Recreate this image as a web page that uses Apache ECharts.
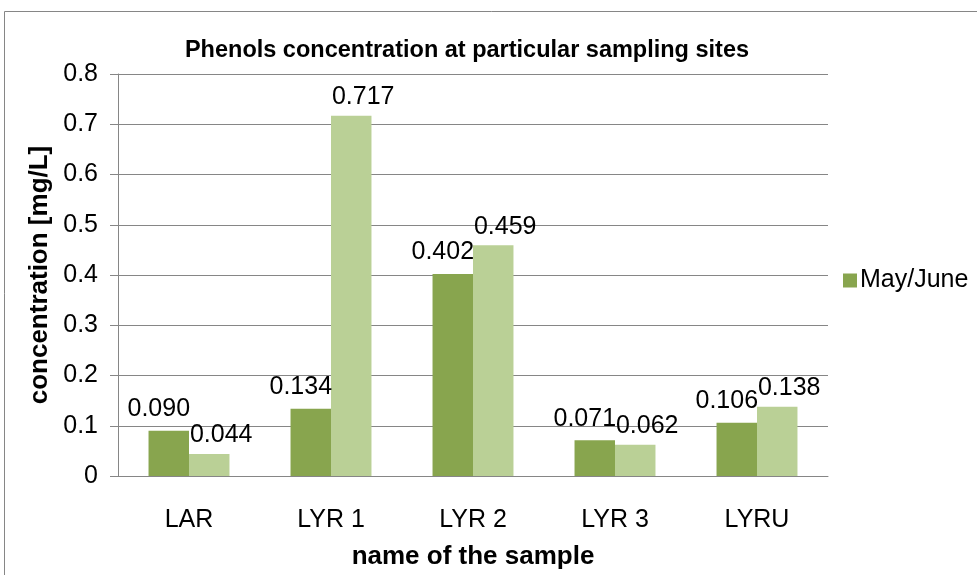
<!DOCTYPE html>
<html>
<head>
<meta charset="utf-8">
<script src="https://cdn.jsdelivr.net/npm/echarts@6/dist/echarts.min.js"></script>
<style>
  html, body { margin: 0; padding: 0; background: #fff; }
  #main { width: 977px; height: 575px; }
</style>
</head>
<body>
<div id="main"></div>
<script>
// sampling sites
const sites = ['LAR', 'LYR 1', 'LYR 2', 'LYR 3', 'LYRU']
// phenols [mg/L]
const mayJune = [0.090, 0.134, 0.402, 0.071, 0.106]
const second = [0.044, 0.717, 0.459, 0.062, 0.138]

const font = 'Arial, "Liberation Sans", sans-serif'
const gray = '#868686'

let myChart = echarts.init(document.getElementById('main'))
let option = {
  animation: false,
  textStyle: { fontFamily: font },
  graphic: [{
    type: 'rect',
    shape: { x: 4.5, y: 11.5, width: 1100, height: 700 },
    style: { fill: 'none', stroke: gray, lineWidth: 1 },
    silent: true
  }],
  title: {
    text: 'Phenols concentration at particular sampling sites',
    left: 462,
    textAlign: 'center',
    top: 34,
    textStyle: { fontFamily: font, fontSize: 23.5, fontWeight: 'bold', color: '#000' }
  },
  legend: {
    data: ['May/June'],
    orient: 'vertical',
    left: 838,
    top: 263,
    itemWidth: 14,
    itemHeight: 14,
    itemGap: 6,
    icon: 'rect',
    textStyle: { fontFamily: font, fontSize: 25, color: '#000', padding: [0, 0, 0, -2] }
  },
  grid: {
    left: 118,
    right: 149,
    top: 74,
    bottom: 89
  },
  xAxis: {
    type: 'category',
    data: sites,
    name: 'name of the sample',
    nameLocation: 'middle',
    nameGap: 68,
    nameTextStyle: { fontFamily: font, fontSize: 26, fontWeight: 'bold', color: '#000' },
    axisLine: { lineStyle: { color: gray } },
    axisTick: { length: 8, lineStyle: { color: gray } },
    axisLabel: { margin: 32, fontSize: 25, color: '#000', fontFamily: font }
  },
  yAxis: {
    type: 'value',
    min: 0,
    max: 0.8,
    interval: 0.1,
    name: 'concentration [mg/L]',
    nameLocation: 'middle',
    nameGap: 64,
    nameTextStyle: { fontFamily: font, fontSize: 26, fontWeight: 'bold', color: '#000' },
    axisLine: { show: true, lineStyle: { color: gray } },
    axisTick: { show: true, length: 8, lineStyle: { color: gray } },
    axisLabel: { margin: 20, fontSize: 25, color: '#000', fontFamily: font },
    splitLine: { lineStyle: { color: gray } }
  },
  series: [{
    name: 'May/June',
    type: 'bar',
    data: mayJune,
    barGap: 0,
    barCategoryGap: '43%',
    itemStyle: { color: '#88a54e' },
    label: {
      show: true,
      position: 'top',
      distance: 9,
      offset: [-10, 0],
      fontSize: 25,
      color: '#000',
      fontFamily: font,
      formatter: p => p.value.toFixed(3)
    }
  }, {
    name: 'September',
    type: 'bar',
    data: second,
    itemStyle: { color: '#bad096' },
    label: {
      show: true,
      position: 'top',
      distance: 6,
      offset: [12, 0],
      fontSize: 25,
      color: '#000',
      fontFamily: font,
      formatter: p => p.value.toFixed(3)
    }
  }]
}
myChart.setOption(option)
</script>
</body>
</html>
